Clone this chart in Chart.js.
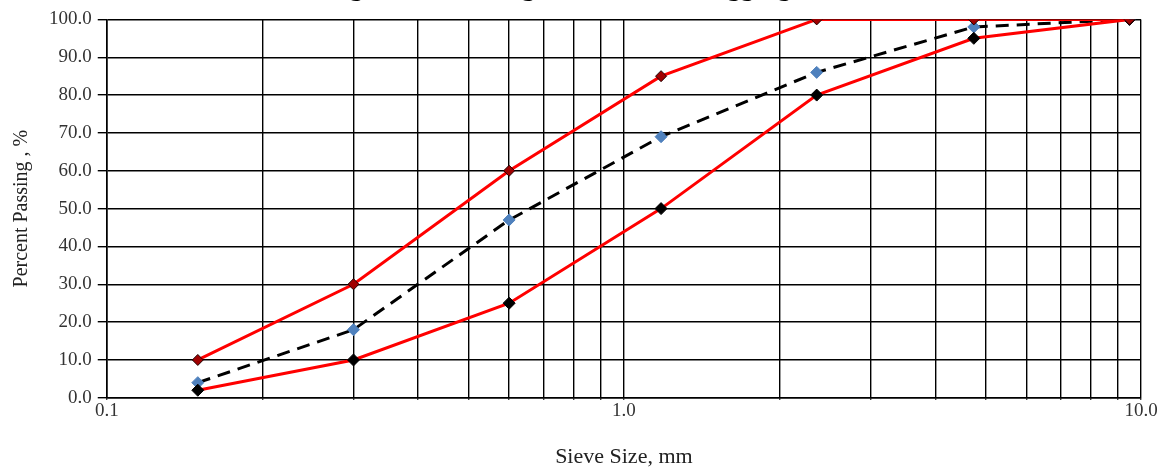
<!DOCTYPE html>
<html>
<head>
<meta charset="utf-8">
<script src="https://cdn.jsdelivr.net/npm/chart.js@4.4.1/dist/chart.umd.min.js"></script>
<style>
  html, body { margin: 0; padding: 0; background: #fff; overflow: hidden; }
  #wrap { position: absolute; left: 0; top: -28px; width: 1168px; height: 498px; }
</style>
</head>
<body>
<div id="wrap"><canvas id="c" width="1168" height="498"></canvas></div>
<script>
const sieveSizes = [0.15, 0.3, 0.6, 1.18, 2.36, 4.75, 9.5];
const upperLimit = [10, 30, 60, 85, 100, 100, 100];
const lowerLimit = [2, 10, 25, 50, 80, 95, 100];
const passing    = [4, 18, 47, 69, 86, 98, 100];
const xGridValues = [0.1,0.2,0.3,0.4,0.5,0.6,0.7,0.8,0.9,1,2,3,4,5,6,7,8,9,10];
const xTickLabels = {0.1: '0.1', 1: '1.0', 10: '10.0'};

const toPts = (ys) => sieveSizes.map((x, i) => ({x: x, y: ys[i]}));
const serif = "'Liberation Serif', 'Times New Roman', serif";

new Chart(document.getElementById('c'), {
  type: 'line',
  data: {
    datasets: [
      {
        label: 'Upper limit',
        data: toPts(upperLimit),
        borderColor: '#FF0000',
        borderWidth: 3,
        pointStyle: 'rectRot',
        pointRadius: 5.5,
        pointBackgroundColor: '#A00000',
        pointBorderColor: '#200000',
        pointBorderWidth: 1,
        tension: 0,
        order: 1
      },
      {
        label: 'Lower limit',
        data: toPts(lowerLimit),
        borderColor: '#FF0000',
        borderWidth: 3,
        pointStyle: 'rectRot',
        pointRadius: 6,
        pointBackgroundColor: '#000000',
        pointBorderColor: '#000000',
        pointBorderWidth: 1,
        tension: 0,
        order: 2
      },
      {
        label: 'Passing',
        data: toPts(passing),
        borderColor: '#000000',
        borderWidth: 3,
        borderDash: [13, 8],
        pointStyle: 'rectRot',
        pointRadius: 6,
        pointBackgroundColor: '#4F81BD',
        pointBorderColor: '#4F81BD',
        pointBorderWidth: 1,
        tension: 0,
        order: 3
      }
    ]
  },
  options: {
    responsive: false,
    animation: false,
    layout: { padding: { left: 10, right: 27, top: 0, bottom: 0 } },
    plugins: {
      legend: { display: false },
      tooltip: { enabled: false },
      title: {
        display: true,
        text: 'Figure 4: Grading Curve of Fine Aggregate',
        color: '#000',
        font: { family: serif, size: 27, weight: 'bold' },
        padding: { top: 0, bottom: 15 }
      }
    },
    scales: {
      x: {
        type: 'logarithmic',
        min: 0.1,
        max: 10,
        afterBuildTicks: (axis) => { axis.ticks = xGridValues.map(v => ({value: v})); },
        ticks: {
          autoSkip: false,
          maxRotation: 0,
          color: '#333',
          font: { family: serif, size: 19 },
          padding: 0,
          callback: (v) => xTickLabels[v] !== undefined ? xTickLabels[v] : ''
        },
        grid: { color: '#000', lineWidth: 1.4, drawTicks: true, tickLength: 2 },
        border: { color: '#000', width: 1.6 },
        title: {
          display: true,
          text: 'Sieve Size, mm',
          color: '#222',
          font: { family: serif, size: 22 },
          padding: { top: 21, bottom: 0 }
        }
      },
      y: {
        min: 0,
        max: 100,
        ticks: {
          stepSize: 10,
          color: '#333',
          font: { family: serif, size: 19 },
          padding: 6,
          callback: (v) => Number(v).toFixed(1)
        },
        grid: { color: '#000', lineWidth: 1.4, drawTicks: true, tickLength: 9 },
        border: { color: '#000', width: 1.6 },
        title: {
          display: true,
          text: 'Percent Passing , %',
          color: '#222',
          font: { family: serif, size: 20 },
          padding: { top: 0, bottom: 9 }
        }
      }
    }
  }
});
</script>
</body>
</html>
